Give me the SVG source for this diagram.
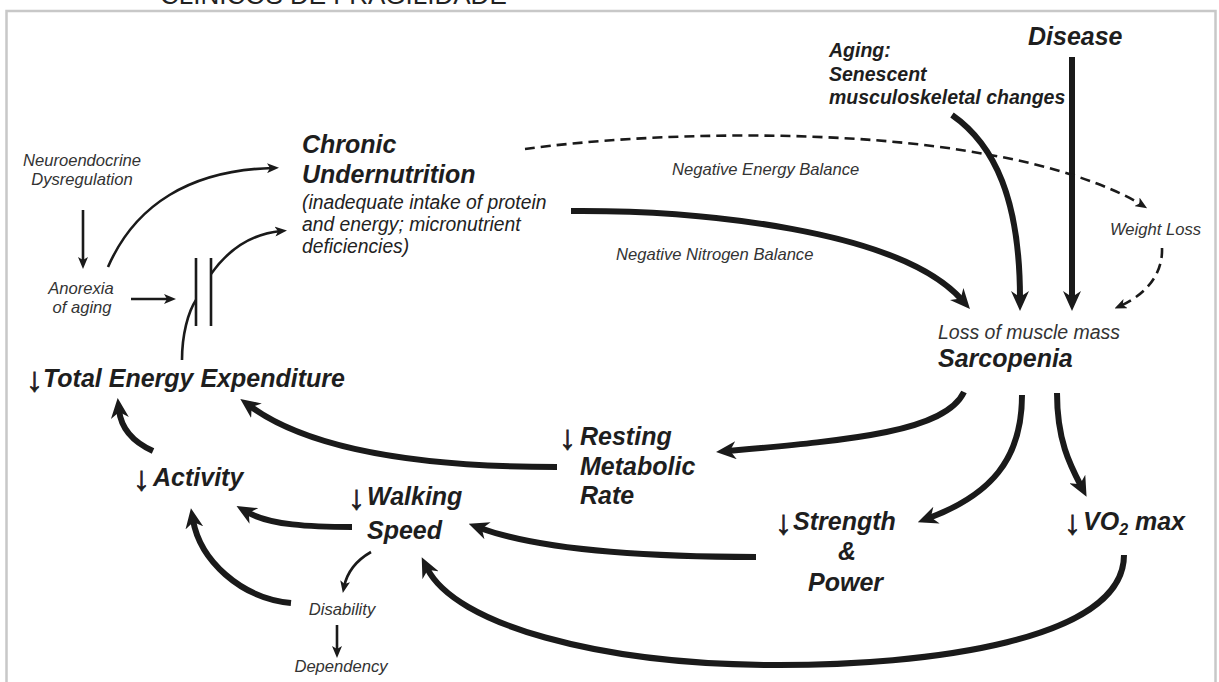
<svg xmlns="http://www.w3.org/2000/svg" width="1219" height="682" viewBox="0 0 1219 682">
  <style>
    text { font-family: "Liberation Sans", Arial, sans-serif; }
    .big { font-size: 25px; font-weight: bold; font-style: italic; fill: #1e1e1e; }
    .mid { font-size: 19.5px; font-weight: bold; font-style: italic; fill: #1e1e1e; }
    .sub { font-size: 19.3px; font-style: italic; fill: #222; }
    .lbl { font-size: 16.6px; font-style: italic; fill: #333; }
    .lbl.mass { font-size: 19.5px; }
    .dn { font-size: 34px; font-style: normal; font-weight: bold; stroke: #1e1e1e; stroke-width: 0.8; }
    .thick { fill: none; stroke: #1a1a1a; stroke-width: 6; marker-end: url(#ah); }
    .thin { fill: none; stroke: #1a1a1a; stroke-width: 2.6; }
    .arr { marker-end: url(#ahs); }
    .dash { fill: none; stroke: #1a1a1a; stroke-width: 2.6; stroke-dasharray: 10 6; marker-end: url(#ahs); }
  </style>
  <defs>
    <!-- barbed head for the heavy arrows -->
    <marker id="ah" viewBox="0 0 20 18" markerWidth="20" markerHeight="18" refX="8" refY="9" orient="auto" markerUnits="userSpaceOnUse">
      <path d="M0,0 L20,9 L0,18 L6,9 Z" fill="#1a1a1a"/>
    </marker>
    <!-- small head for the light arrows -->
    <marker id="ahs" viewBox="0 0 12 10" markerWidth="12" markerHeight="10" refX="6" refY="5" orient="auto" markerUnits="userSpaceOnUse">
      <path d="M0,0 L12,5 L0,10 L3,5 Z" fill="#1a1a1a"/>
    </marker>
  </defs>

  <rect width="1219" height="682" fill="#fff"/>
  <text x="160" y="4" font-size="26" fill="#222">CLÍNICOS DE FRAGILIDADE</text>
  <rect x="6.5" y="11" width="1209" height="700" fill="none" stroke="#c8c8c8" stroke-width="2.5"/>

  <!-- connectors -->
  <g id="connectors">
    <!-- inputs to sarcopenia -->
    <path class="thick" d="M571 211 C700 210 900 230 962 300" stroke-width="5.5"/>
    <path class="thick" d="M952 115 C995 145 1020 200 1020 299" stroke-width="5.5"/>
    <path class="thick" d="M1072 57 L1072 299" stroke-width="5.5"/>
    <path class="dash" d="M525 149 C650 132 850 128 990 155 C1050 165 1110 185 1142 205"/>
    <path class="dash" d="M1162 248 C1163 275 1145 295 1120 306"/>
    <!-- outputs of sarcopenia -->
    <path class="thick" d="M964 392 C945 432 850 440 728 451"/>
    <path class="thick" d="M1022 395 C1022 460 990 495 929 518"/>
    <path class="thick" d="M1057 393 C1057 440 1070 465 1081 486"/>
    <!-- cycle back to energy expenditure -->
    <path class="thick" d="M557 467 C420 467 310 450 250 406"/>
    <path class="thick" d="M153 451 C133 442 121 428 119 410"/>
    <path class="thick" d="M352 527 C310 527 270 525 247 512"/>
    <path class="thick" d="M291 603 C240 598 200 560 193 520"/>
    <path class="thick" d="M756 557 C640 557 540 550 480 528"/>
    <path class="thick" d="M1124 555 C1124 640 930 666 770 665 C600 664 455 625 427 568"/>
    <!-- light arrows -->
    <path class="thin arr" d="M371 552 C357 560 347 572 344 587"/>
    <path class="thin arr" d="M337 625 L337 652" stroke-width="3"/>
    <path class="thin arr" d="M83 210 L83 263" stroke-width="3"/>
    <path class="thin arr" d="M131 299 L170 299" stroke-width="3"/>
    <path class="thin arr" d="M108 267 C135 205 190 170 273 168"/>
    <path class="thin arr" d="M211 274 C228 250 250 234 281 231"/>
    <path class="thin" d="M182 360 C182 335 188 312 196 300"/>
    <!-- intake gate -->
    <path class="thin" d="M196 258 L196 326 M211 258 L211 326" stroke-width="3"/>
  </g>

  <g id="neuroendocrine">
    <text class="lbl" text-anchor="middle"><tspan x="82" y="166">Neuroendocrine</tspan><tspan x="82" y="185">Dysregulation</tspan></text>
  </g>
  <g id="anorexia">
    <text class="lbl" text-anchor="middle"><tspan x="81" y="294">Anorexia</tspan><tspan x="82" y="313">of aging</tspan></text>
  </g>
  <g id="undernutrition">
    <text class="big"><tspan x="302" y="153">Chronic</tspan><tspan x="302" y="183">Undernutrition</tspan></text>
    <text class="sub"><tspan x="302" y="209">(inadequate intake of protein</tspan><tspan x="302" y="231">and energy; micronutrient</tspan><tspan x="302" y="253">deficiencies)</tspan></text>
  </g>
  <g id="energy-balance">
    <text class="lbl" x="672" y="175">Negative Energy Balance</text>
  </g>
  <g id="nitrogen-balance">
    <text class="lbl" x="616" y="260">Negative Nitrogen Balance</text>
  </g>
  <g id="aging">
    <text class="mid"><tspan x="829" y="57">Aging:</tspan><tspan x="829" y="81">Senescent</tspan><tspan x="829" y="104">musculoskeletal changes</tspan></text>
  </g>
  <g id="disease">
    <text class="big" x="1028" y="45">Disease</text>
  </g>
  <g id="weight-loss">
    <text class="lbl" x="1110" y="235">Weight Loss</text>
  </g>
  <g id="sarcopenia">
    <text class="lbl mass" x="938" y="339">Loss of muscle mass</text>
    <text class="big" x="938" y="367">Sarcopenia</text>
  </g>
  <g id="total-energy">
    <text class="big"><tspan class="dn" x="26" y="391">↓</tspan><tspan x="43" y="387">Total Energy Expenditure</tspan></text>
  </g>
  <g id="activity">
    <text class="big"><tspan class="dn" x="133" y="490">↓</tspan><tspan x="153" y="486">Activity</tspan></text>
  </g>
  <g id="walking-speed">
    <text class="big"><tspan class="dn" x="348" y="509">↓</tspan><tspan x="367" y="505">Walking</tspan><tspan x="367" y="539">Speed</tspan></text>
  </g>
  <g id="resting-metabolic-rate">
    <text class="big"><tspan class="dn" x="559" y="449">↓</tspan><tspan x="580" y="445">Resting</tspan><tspan x="580" y="475">Metabolic</tspan><tspan x="580" y="504">Rate</tspan></text>
  </g>
  <g id="strength-power">
    <text class="big"><tspan class="dn" x="775" y="534">↓</tspan><tspan x="793" y="530">Strength</tspan><tspan x="838" y="560">&amp;</tspan><tspan x="808" y="591">Power</tspan></text>
  </g>
  <g id="vo2max">
    <text class="big"><tspan class="dn" x="1064" y="534">↓</tspan><tspan x="1083" y="530">VO</tspan><tspan font-size="16" y="535">2</tspan><tspan y="530"> max</tspan></text>
  </g>
  <g id="disability">
    <text class="lbl" x="342" y="615" text-anchor="middle">Disability</text>
  </g>
  <g id="dependency">
    <text class="lbl" x="341" y="672" text-anchor="middle">Dependency</text>
  </g>
</svg>
